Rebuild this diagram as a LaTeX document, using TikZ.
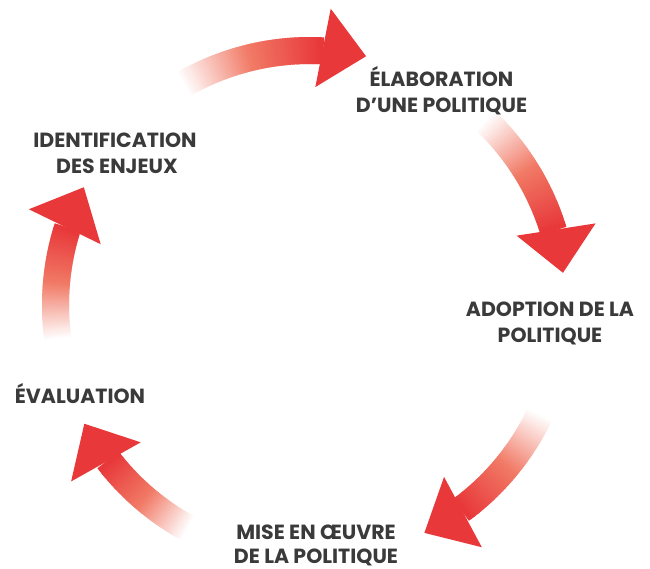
\documentclass[tikz,border=0pt]{standalone}
\usepackage{fontspec}
\newfontfamily\lblfont{Poppins}
\definecolor{arrred}{RGB}{232,56,58}
\definecolor{arrmid}{RGB}{241,122,102}
\definecolor{txtgray}{RGB}{58,58,58}
\tikzset{
  lbl/.style={font=\lblfont\bfseries\fontsize{20.5}{25}\selectfont, text=txtgray, anchor=base, inner sep=0pt},
}
\newcommand\cyclearrow[2]{%
  \foreach \i in {0,...,59}{
    \pgfmathsetmacro\aa{#1+(#2-#1)*\i/60}
    \pgfmathsetmacro\ab{#1+(#2-#1)*(\i+1.6)/60}
    \pgfmathsetmacro\pc{100*\i/59}
    \pgfmathsetmacro\pa{min(100,2*\pc)}
    \pgfmathsetmacro\pb{max(0,2*\pc-100)}
    \fill[arrred!\pb!arrmid!\pa!white] (\aa:241pt) arc[start angle=\aa, end angle=\ab, radius=241pt]
      -- (\ab:268pt) arc[start angle=\ab, end angle=\aa, radius=268pt] -- cycle;
  }
  \pgfmathsetmacro\hin{#2+1.3}
  \pgfmathsetmacro\hout{#2-1.3}
  \pgfmathsetmacro\htip{#2-10}
  \fill[arrred] (\hin:218pt) -- (\htip:255pt) -- (\hout:297pt) -- cycle;
}
\begin{document}
\begin{tikzpicture}[x=1pt,y=1pt]
\fill[white] (0,0) rectangle (650,-569);
\useasboundingbox (0,0) rectangle (650,-569);
\begin{scope}[shift={(310,-305)}]
  \cyclearrow{120}{87.3}
  \cyclearrow{46.5}{17.25}
  \cyclearrow{-25.3}{-53.35}
  \cyclearrow{-118.5}{-142.25}
  \cyclearrow{187.8}{162.5}
\end{scope}
\node[lbl] (elab1) at (441.5,-87) {ÉLABORATION};
\node[lbl] (elab2) at (441.5,-113) {D’UNE POLITIQUE};
\node[lbl] (iden1) at (115,-148) {IDENTIFICATION};
\node[lbl] (iden2) at (117,-174) {DES ENJEUX};
\node[lbl] (adop1) at (550,-316.5) {ADOPTION DE LA};
\node[lbl] (adop2) at (550,-342) {POLITIQUE};
\node[lbl] (eval) at (80,-403) {ÉVALUATION};
\node[lbl] (mise1) at (316,-539) {MISE EN ŒUVRE};
\node[lbl] (mise2) at (316,-563) {DE LA POLITIQUE};
\end{tikzpicture}
\end{document}
